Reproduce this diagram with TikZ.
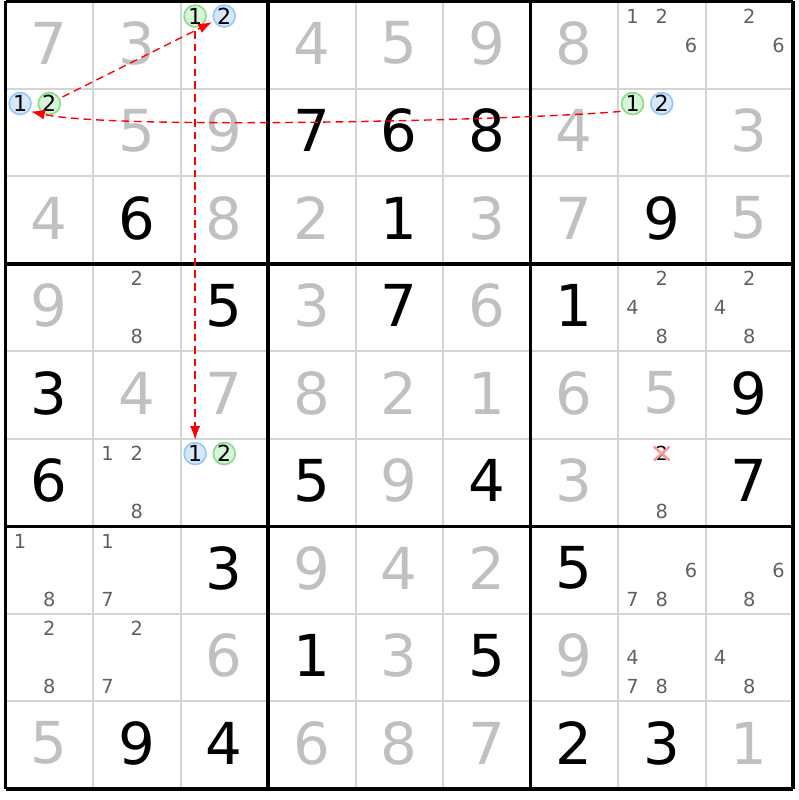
\documentclass[tikz,border=0pt]{standalone}
\usepackage{fontspec}
\setmainfont{DejaVu Sans}
\usetikzlibrary{arrows.meta}
\definecolor{givengray}{RGB}{192,192,192}
\definecolor{pencilgray}{RGB}{96,96,96}
\definecolor{gridgray}{RGB}{212,212,212}
\definecolor{linkblue}{RGB}{150,200,255}
\definecolor{linkbluefill}{RGB}{215,232,250}
\definecolor{linkgreen}{RGB}{140,220,140}
\definecolor{linkgreenfill}{RGB}{215,245,215}
\definecolor{crossred}{RGB}{255,150,150}
\tikzset{
    every node/.style={
        inner sep=0pt
    },
    given/.style={
        font=\fontsize{18.8}{20}\selectfont,
        text=givengray
    },
    solved/.style={
        font=\fontsize{18.8}{20}\selectfont,
        text=black
    },
    pencil/.style={
        font=\fontsize{6.3}{6}\selectfont,
        text=pencilgray
    },
    bluemark/.style={
        circle, minimum size=0.25cm, line width=0.55pt,
        draw=linkblue, fill=linkbluefill, text=black,
        font=\fontsize{7.2}{6}\selectfont
    },
    greenmark/.style={
        circle, minimum size=0.25cm, line width=0.55pt,
        draw=linkgreen, fill=linkgreenfill, text=black,
        font=\fontsize{7.2}{6}\selectfont
    }
}

\begin{document}
\begin{tikzpicture}[
		thin line/.style={draw=gridgray, line width=0.65pt},
		box line/.style={draw=black, line width=1pt},
		chain/.style={draw=red, line width=0.45pt, dash pattern=on 2.5pt off 1.6pt,
			-{Latex[length=4.5pt, width=3.3pt]}, shorten <=1pt, shorten >=0.6pt},
		cross/.style={draw=crossred, line width=0.8pt}
		]
		\useasboundingbox (-0.063,0.017) rectangle (9.064,-9.126);
		
		% grid
		\foreach \i in {1,2,4,5,7,8} {
			\draw [thin line] (\i,0) -- (\i,-9);
			\draw [thin line] (0,-\i) -- (9,-\i);
		}
		\foreach \i in {0,3,6,9} {
			\draw [box line] (\i,0) -- (\i,-9);
			\draw [box line] (0,-\i) -- (9,-\i);
		}
		
		% grey digits
		\foreach \r/\c/\d in {1/1/7, 1/2/3, 1/4/4, 1/5/5, 1/6/9, 1/7/8,
			2/2/5, 2/3/9, 2/7/4, 2/9/3,
			3/1/4, 3/3/8, 3/4/2, 3/6/3, 3/7/7, 3/9/5,
			4/1/9, 4/4/3, 4/6/6,
			5/2/4, 5/3/7, 5/4/8, 5/5/2, 5/6/1, 5/7/6, 5/8/5,
			6/5/9, 6/7/3,
			7/4/9, 7/5/4, 7/6/2,
			8/3/6, 8/5/3, 8/7/9,
			9/1/5, 9/4/6, 9/5/8, 9/6/7, 9/9/1}
			\node (d\r\c) at (\c-0.5, -\r+0.525) [given] {\d};
		
		% black digits
		\foreach \r/\c/\d in {2/4/7, 2/5/6, 2/6/8,
			3/2/6, 3/5/1, 3/8/9,
			4/3/5, 4/5/7, 4/7/1,
			5/1/3, 5/9/9,
			6/1/6, 6/4/5, 6/6/4, 6/9/7,
			7/3/3, 7/7/5,
			8/4/1, 8/6/5,
			9/2/9, 9/3/4, 9/7/2, 9/8/3}
			\node (d\r\c) at (\c-0.5, -\r+0.525) [solved] {\d};
		
		% candidates
		\foreach \r/\c/\d in {1/8/1, 1/8/2, 1/8/6, 1/9/2, 1/9/6,
			4/2/2, 4/2/8, 4/8/2, 4/8/4, 4/8/8, 4/9/2, 4/9/4, 4/9/8,
			6/2/1, 6/2/2, 6/2/8, 6/8/8,
			7/1/1, 7/1/8, 7/2/1, 7/2/7, 7/8/6, 7/8/7, 7/8/8, 7/9/6, 7/9/8,
			8/1/2, 8/1/8, 8/2/2, 8/2/7, 8/8/4, 8/8/7, 8/8/8, 8/9/4, 8/9/8} {
			\pgfmathsetmacro\px{\c-1+(2*mod(\d-1,3)+1)/6}
			\pgfmathsetmacro\py{-(\r-1)-(2*floor((\d-1)/3)+1)/6}
			\node (p\r\c\d) at (\px,\py) [pencil] {\d};
		}
		\node (p682) at (7.5,-5.1667) [pencil, text=black] {2};
		\draw [cross] ([shift={(-0.09,0.08)}]p682.center) -- ([shift={(0.09,-0.08)}]p682.center);
		\draw [cross] ([shift={(-0.09,-0.08)}]p682.center) -- ([shift={(0.09,0.08)}]p682.center);
		
		% linked candidates
		\foreach \r/\c/\d/\s in {1/3/1/greenmark, 1/3/2/bluemark,
			2/1/1/bluemark, 2/1/2/greenmark,
			2/8/1/greenmark, 2/8/2/bluemark,
			6/3/1/bluemark, 6/3/2/greenmark} {
			\pgfmathsetmacro\px{\c-1+(2*mod(\d-1,3)+1)/6}
			\pgfmathsetmacro\py{-(\r-1)-(2*floor((\d-1)/3)+1)/6}
			\node (p\r\c\d) at (\px,\py) [style=\s] {\d};
		}
		
		\draw [chain] (p212) -- (p132);
		\draw [chain] (p131) -- (p631);
		\draw [chain] (p281.-140) .. controls +(-1.1,-0.1) and +(1.0,-0.22) .. (p211.-40);
	\end{tikzpicture}
\end{document}
